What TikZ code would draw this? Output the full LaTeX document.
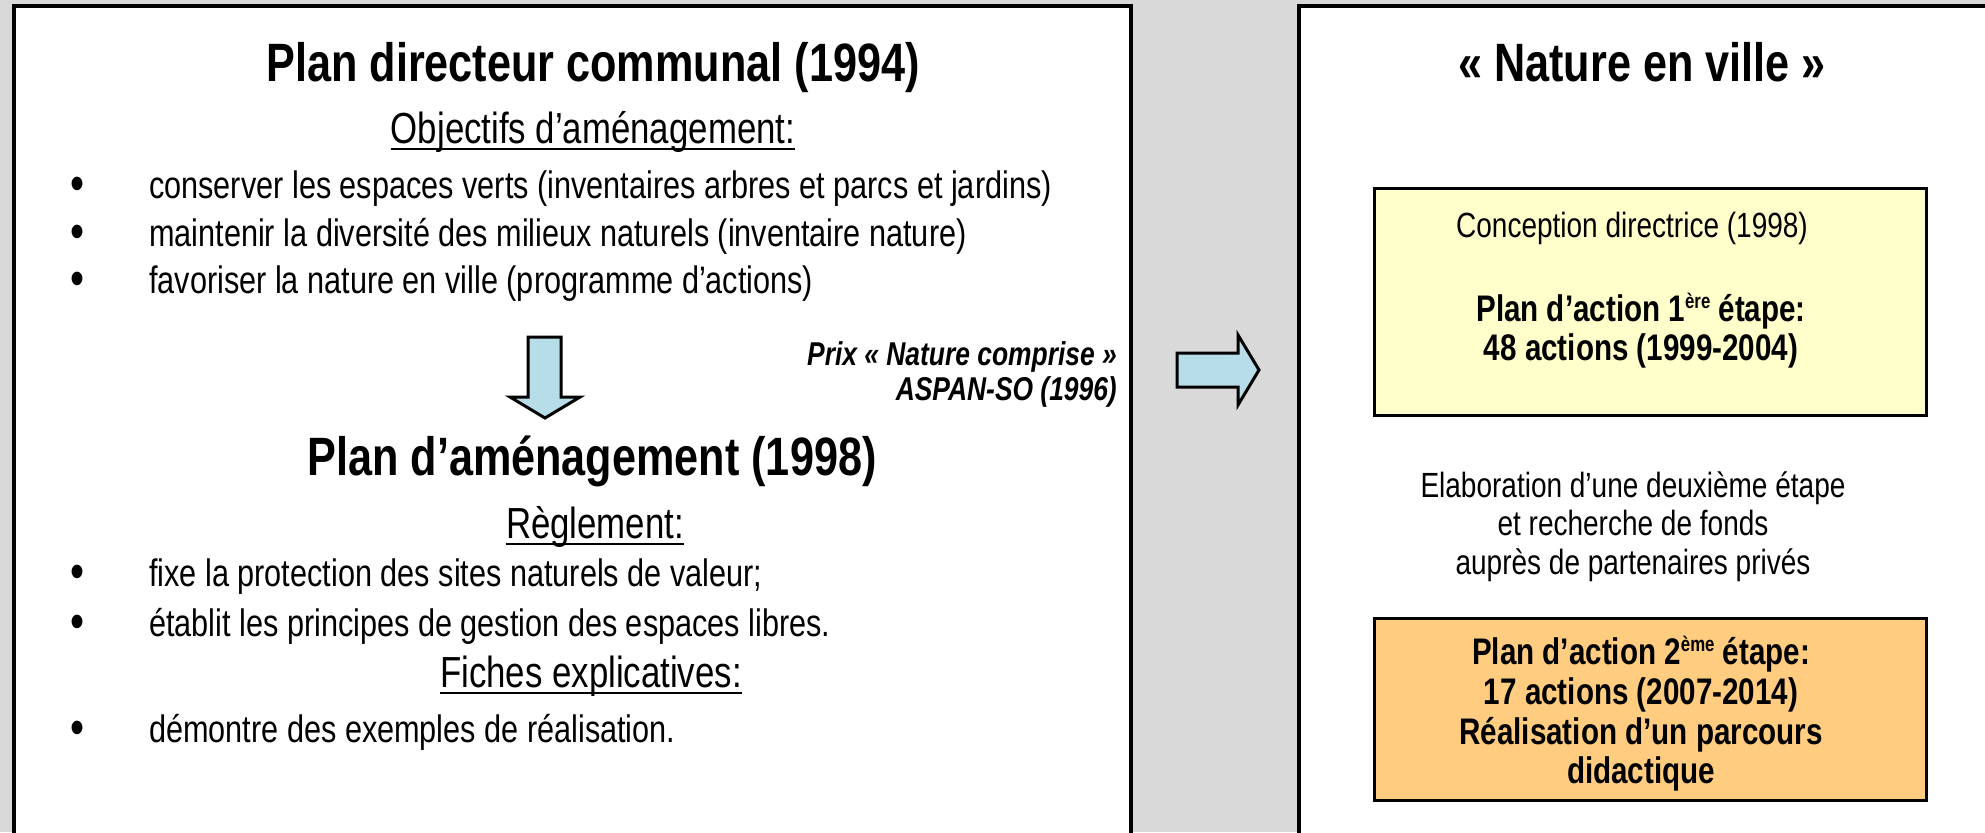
\documentclass[tikz,border=0pt]{standalone}
\usepackage{fontspec}
\setmainfont{Liberation Sans}[FakeStretch=0.80]
\definecolor{bggray}{HTML}{D9D9D9}
\definecolor{arrowblue}{HTML}{B7DEE8}
\definecolor{boxyellow}{HTML}{FFFFCC}
\definecolor{boxorange}{HTML}{FFCC80}
\newcommand\supx[1]{\raisebox{13pt}{\fontsize{21}{21}\selectfont #1}}
\begin{document}
\begin{tikzpicture}[x=1pt,y=-1pt,
  every node/.style={inner sep=0pt},
  bigtitle/.style={font=\fontsize{54}{64}\selectfont\bfseries, anchor=base},
  subhead/.style={font=\fontsize{43.5}{52}\selectfont, anchor=base},
  btext/.style={font=\fontsize{38.3}{46}\selectfont, anchor=base west},
  bdot/.style={font=\fontsize{50}{60}\selectfont, anchor=base},
  rtext/.style={font=\fontsize{35}{42}\selectfont, anchor=base},
  rbold/.style={font=\fontsize{37}{44}\selectfont\bfseries, anchor=base},
  prize/.style={font=\fontsize{33}{40}\selectfont\bfseries\itshape, anchor=base east},
  panel/.style={draw=black, fill=white, line width=4pt},
  infobox/.style={draw=black, line width=3pt},
  blockarrow/.style={draw=black, fill=arrowblue, line width=3pt, line join=miter},
  uline/.style={line width=2pt}
]
\useasboundingbox (0,0) rectangle (1985,832);
\fill[bggray] (0,0) rectangle (1985,832);
\begin{scope}
  \clip (0,0) rectangle (1985,832);
  \draw[panel] (14,6) rectangle (1131,870);
  \draw[panel] (1299,6) rectangle (2020,870);
\end{scope}

% ---------- left panel ----------
\node[bigtitle] (t1) at (593,82) {Plan directeur communal (1994)};
\node[subhead] (obj) at (593,143) {Objectifs d’aménagement:};
\draw[uline] ([yshift=-6pt]obj.base west) -- ([yshift=-6pt]obj.base east);

\node[bdot] (d1) at (78,200) {•};
\node[btext] (l1) at (149,198) {conserver les espaces verts (inventaires arbres et parcs et jardins)};
\node[bdot] (d2) at (78,248) {•};
\node[btext] (l2) at (149,246) {maintenir la diversité des milieux naturels (inventaire nature)};
\node[bdot] (d3) at (78,295) {•};
\node[btext] (l3) at (149,293) {favoriser la nature en ville (programme d’actions)};

\draw[blockarrow] (528,337) -- (561,337) -- (561,397) -- (580,397) -- (545,418)
  -- (510,397) -- (528,397) -- cycle;

\node[prize] (p1) at (1117,365) {Prix « Nature comprise »};
\node[prize] (p2) at (1117,400) {ASPAN-SO (1996)};

\node[bigtitle] (t2) at (592,475) {Plan d’aménagement (1998)};
\node[subhead] (reg) at (595,538) {Règlement:};
\draw[uline] ([yshift=-6pt]reg.base west) -- ([yshift=-6pt]reg.base east);

\node[bdot] (d4) at (78,588) {•};
\node[btext] (l4) at (149,586) {fixe la protection des sites naturels de valeur;};
\node[bdot] (d5) at (78,638) {•};
\node[btext] (l5) at (149,636) {établit les principes de gestion des espaces libres.};

\node[subhead] (fic) at (591,687) {Fiches explicatives:};
\draw[uline] ([yshift=-6pt]fic.base west) -- ([yshift=-6pt]fic.base east);

\node[bdot] (d6) at (78,744) {•};
\node[btext] (l6) at (149,742) {démontre des exemples de réalisation.};

% ---------- middle arrow ----------
\draw[blockarrow] (1177,353) -- (1238,353) -- (1238,335) -- (1259,370)
  -- (1238,405) -- (1238,387) -- (1177,387) -- cycle;

% ---------- right panel ----------
\node[bigtitle] (t3) at (1642,82) {« Nature en ville »};

\draw[infobox, fill=boxyellow] (1374,188) rectangle (1926,415);
\node[rtext] (c1) at (1632,237) {Conception directrice (1998)};
\node[rbold] (c2) at (1641,321) {Plan d’action 1\supx{ère} étape:};
\node[rbold] (c3) at (1641,360) {48 actions (1999-2004)};

\node[rtext] (e1) at (1633,497) {Elaboration d’une deuxième étape};
\node[rtext] (e2) at (1633,535) {et recherche de fonds};
\node[rtext] (e3) at (1633,574) {auprès de partenaires privés};

\draw[infobox, fill=boxorange] (1374,618) rectangle (1926,800);
\node[rbold] (o1) at (1641,664) {Plan d’action 2\supx{ème} étape:};
\node[rbold] (o2) at (1641,704) {17 actions (2007-2014)};
\node[rbold] (o3) at (1641,744) {Réalisation d’un parcours};
\node[rbold] (o4) at (1641,783) {didactique};
\end{tikzpicture}
\end{document}
